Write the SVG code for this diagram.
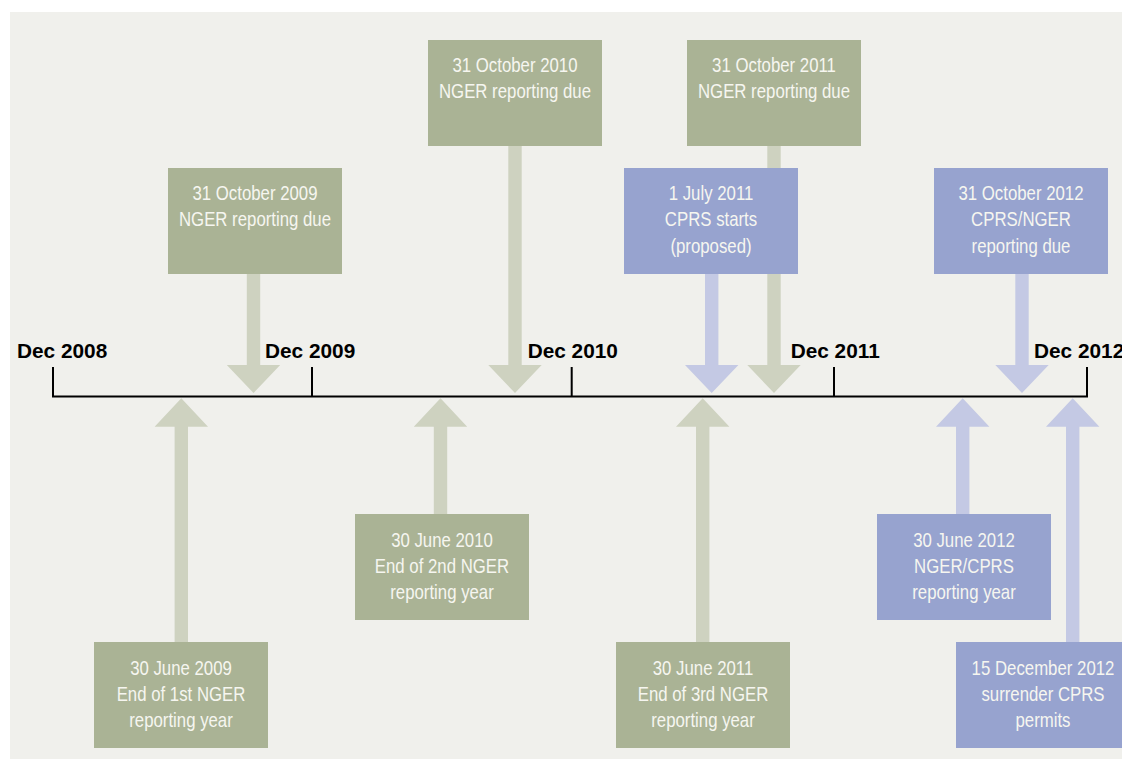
<svg xmlns="http://www.w3.org/2000/svg" width="1122" height="760" viewBox="0 0 1122 760">
  <style>
    .bg { fill: #f0f0ec; }
    .green { fill: #aab395; }
    .blue { fill: #97a3cf; }
    .arr-green { fill: #ced2c0; }
    .arr-blue { fill: #c4c9e4; }
    .lbl { font-family: 'Liberation Sans', Arial, sans-serif; font-size: 20px; fill: #f6f6f0; text-anchor: middle; }
    .year { font-family: 'Liberation Sans', Arial, sans-serif; font-size: 20.8px; font-weight: bold; fill: #000; }
    .axis { stroke: #000; stroke-width: 2; fill: none; }
  </style>
  <rect x="0" y="0" width="1122" height="760" fill="#ffffff"/>
  <rect class="bg" x="10" y="12" width="1112" height="747"/>

  <g id="connectors">
    <polygon class="arr-green" points="246.8,274 260.2,274 260.2,365 280.2,365 253.5,393 226.8,365 246.8,365"/>
    <polygon class="arr-green" points="508.3,146 521.7,146 521.7,365 541.7,365 515,393 488.3,365 508.3,365"/>
    <polygon class="arr-green" points="767.3,146 780.7,146 780.7,365 800.7,365 774,393 747.3,365 767.3,365"/>
    <polygon class="arr-blue" points="705,274 718.4,274 718.4,365 738.4,365 711.7,393 685,365 705,365"/>
    <polygon class="arr-blue" points="1015.3,274 1028.7,274 1028.7,365 1048.7,365 1022,393 995.3,365 1015.3,365"/>
    <polygon class="arr-green" points="174.6,642 188,642 188,426.7 208,426.7 181.3,398.3 154.6,426.7 174.6,426.7"/>
    <polygon class="arr-green" points="433.8,514 447.2,514 447.2,426.7 467.2,426.7 440.5,398.3 413.8,426.7 433.8,426.7"/>
    <polygon class="arr-green" points="696,642 709.4,642 709.4,426.7 729.4,426.7 702.7,398.3 676,426.7 696,426.7"/>
    <polygon class="arr-blue" points="956,514 969.4,514 969.4,426.7 989.4,426.7 962.7,398.3 936,426.7 956,426.7"/>
    <polygon class="arr-blue" points="1066,642 1079.4,642 1079.4,426.7 1099.4,426.7 1072.7,398.3 1046,426.7 1066,426.7"/>
  </g>

  <g id="timeline">
    <path class="axis" d="M53,367 V396.5 H1087 V367 M312,367 V396.5 M571.7,367 V396.5 M834,367 V396.5"/>
    <text class="year" x="17" y="358">Dec 2008</text>
    <text class="year" x="265" y="358">Dec 2009</text>
    <text class="year" x="527.7" y="358">Dec 2010</text>
    <text class="year" x="790.7" y="358">Dec 2011</text>
    <text class="year" x="1034" y="358">Dec 2012</text>
  </g>

  <g id="oct2009">
    <rect class="green" x="168" y="168" width="174" height="106"/>
    <g transform="translate(255 0) scale(0.84 1)">
      <text class="lbl" x="0" y="200">31 October 2009</text>
      <text class="lbl" x="0" y="226.5">NGER reporting due</text>
    </g>
  </g>
  <g id="oct2010">
    <rect class="green" x="428" y="40" width="174" height="106"/>
    <g transform="translate(515 0) scale(0.84 1)">
      <text class="lbl" x="0" y="72">31 October 2010</text>
      <text class="lbl" x="0" y="98.5">NGER reporting due</text>
    </g>
  </g>
  <g id="oct2011">
    <rect class="green" x="687" y="40" width="174" height="106"/>
    <g transform="translate(774 0) scale(0.84 1)">
      <text class="lbl" x="0" y="72">31 October 2011</text>
      <text class="lbl" x="0" y="98.5">NGER reporting due</text>
    </g>
  </g>
  <g id="jul2011">
    <rect class="blue" x="624" y="168" width="174" height="106"/>
    <g transform="translate(711 0) scale(0.84 1)">
      <text class="lbl" x="0" y="200">1 July 2011</text>
      <text class="lbl" x="0" y="226.5">CPRS starts</text>
      <text class="lbl" x="0" y="253">(proposed)</text>
    </g>
  </g>
  <g id="oct2012">
    <rect class="blue" x="934" y="168" width="174" height="106"/>
    <g transform="translate(1021 0) scale(0.84 1)">
      <text class="lbl" x="0" y="200">31 October 2012</text>
      <text class="lbl" x="0" y="226.5">CPRS/NGER</text>
      <text class="lbl" x="0" y="253">reporting due</text>
    </g>
  </g>
  <g id="jun2009">
    <rect class="green" x="94" y="642" width="174" height="106"/>
    <g transform="translate(181 0) scale(0.84 1)">
      <text class="lbl" x="0" y="675">30 June 2009</text>
      <text class="lbl" x="0" y="701">End of 1st NGER</text>
      <text class="lbl" x="0" y="727.5">reporting year</text>
    </g>
  </g>
  <g id="jun2010">
    <rect class="green" x="355" y="514" width="174" height="106"/>
    <g transform="translate(442 0) scale(0.84 1)">
      <text class="lbl" x="0" y="547">30 June 2010</text>
      <text class="lbl" x="0" y="573">End of 2nd NGER</text>
      <text class="lbl" x="0" y="599.5">reporting year</text>
    </g>
  </g>
  <g id="jun2011">
    <rect class="green" x="616" y="642" width="174" height="106"/>
    <g transform="translate(703 0) scale(0.84 1)">
      <text class="lbl" x="0" y="675">30 June 2011</text>
      <text class="lbl" x="0" y="701">End of 3rd NGER</text>
      <text class="lbl" x="0" y="727.5">reporting year</text>
    </g>
  </g>
  <g id="jun2012">
    <rect class="blue" x="877" y="514" width="174" height="106"/>
    <g transform="translate(964 0) scale(0.84 1)">
      <text class="lbl" x="0" y="547">30 June 2012</text>
      <text class="lbl" x="0" y="573">NGER/CPRS</text>
      <text class="lbl" x="0" y="599.5">reporting year</text>
    </g>
  </g>
  <g id="dec2012">
    <rect class="blue" x="956" y="642" width="174" height="106"/>
    <g transform="translate(1043 0) scale(0.84 1)">
      <text class="lbl" x="0" y="675">15 December 2012</text>
      <text class="lbl" x="0" y="701">surrender CPRS</text>
      <text class="lbl" x="0" y="727.5">permits</text>
    </g>
  </g>
</svg>
